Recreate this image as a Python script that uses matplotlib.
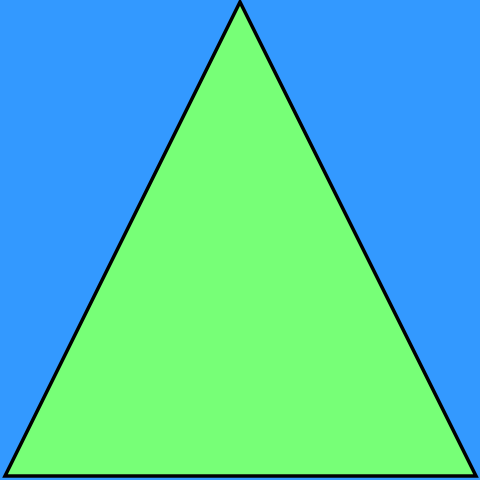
import matplotlib
matplotlib.use('Agg')
import matplotlib.pyplot as plt
from matplotlib.patches import Polygon

# triangle vertices in pixel space (x, y from top)
tri_x = [240, 5, 476]
tri_y = [2, 476, 476]

fig = plt.figure(figsize=(4.8, 4.8), dpi=100)
fig.patch.set_facecolor('#3399ff')
ax = fig.add_axes([0, 0, 1, 1])
ax.set_facecolor('#3399ff')
ax.set_xlim(0, 480)
ax.set_ylim(480, 0)
ax.axis('off')

ax.add_patch(Polygon(list(zip(tri_x, tri_y)), closed=True,
                     facecolor='#77ff77', edgecolor='black', linewidth=2.5))

fig.savefig('out.png', dpi=100, facecolor=fig.get_facecolor())
